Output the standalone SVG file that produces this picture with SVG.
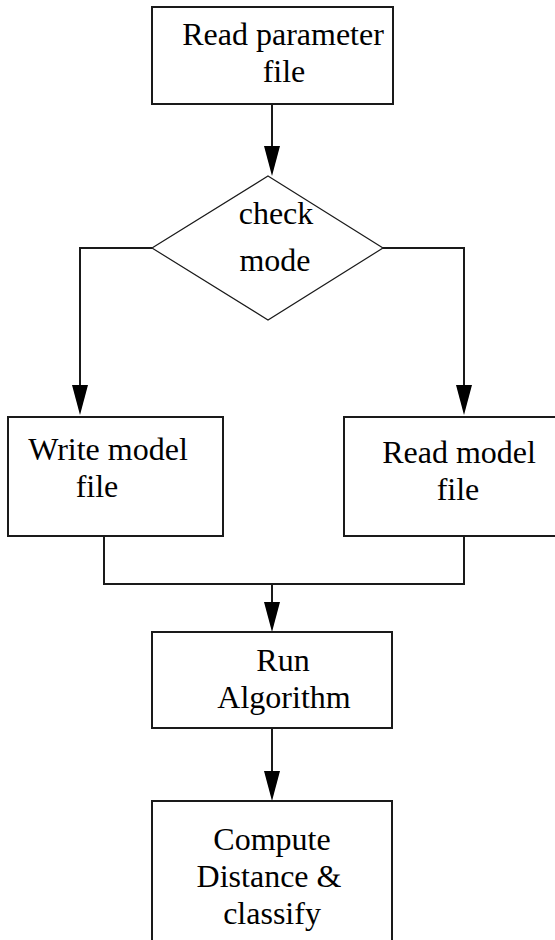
<svg xmlns="http://www.w3.org/2000/svg" width="555" height="940" viewBox="0 0 555 940">
  <style>
    .box { fill: #ffffff; stroke: #1a1a1a; stroke-width: 2; }
    .dia { fill: #ffffff; stroke: #1a1a1a; stroke-width: 1.2; }
    .conn { fill: none; stroke: #1a1a1a; stroke-width: 2; }
    .thin { fill: none; stroke: #1a1a1a; stroke-width: 1.2; }
    text { font-family: "Liberation Serif", "Times New Roman", serif; font-size: 32px; fill: #000000; text-anchor: middle; }
  </style>
  <defs>
    <marker id="arrow" markerUnits="userSpaceOnUse" markerWidth="30" markerHeight="16" viewBox="0 0 30 16" refX="26" refY="8" orient="auto">
      <path d="M0,0 L30,8 L0,16 Z" fill="#000000"/>
    </marker>
  </defs>
  <rect width="555" height="940" fill="#ffffff"/>

  <g id="connectors">
    <line class="conn" x1="272" y1="104" x2="272" y2="172" marker-end="url(#arrow)"/>
    <polyline class="conn" points="152,248 80,248 80,411" marker-end="url(#arrow)"/>
    <line class="thin" x1="368" y1="248" x2="383" y2="248"/>
    <polyline class="conn" points="383,248 464,248 464,411" marker-end="url(#arrow)"/>
    <polyline class="conn" points="104,536 104,584 464,584 464,536"/>
    <line class="conn" x1="272" y1="584" x2="272" y2="628" marker-end="url(#arrow)"/>
    <line class="conn" x1="272" y1="728" x2="272" y2="797" marker-end="url(#arrow)"/>
  </g>

  <g id="read-parameter">
    <rect class="box" x="152" y="7" width="241" height="97"/>
    <text x="283" y="45">Read parameter</text>
    <text x="284" y="82">file</text>
  </g>

  <g id="check-mode">
    <polygon class="dia" points="268,176 383,248 268,320 152,248"/>
    <text x="276" y="224">check</text>
    <text x="275" y="271">mode</text>
  </g>

  <g id="write-model">
    <rect class="box" x="8" y="417" width="215" height="119"/>
    <text x="108" y="460">Write model</text>
    <text x="97" y="497">file</text>
  </g>

  <g id="read-model">
    <rect class="box" x="344" y="417" width="240" height="119"/>
    <text x="459" y="463">Read model</text>
    <text x="458" y="500">file</text>
  </g>

  <g id="run-algorithm">
    <rect class="box" x="152" y="632" width="240" height="96"/>
    <text x="283" y="671">Run</text>
    <text x="284" y="708">Algorithm</text>
  </g>

  <g id="compute-distance">
    <rect class="box" x="152" y="801" width="240" height="160"/>
    <text x="272" y="850">Compute</text>
    <text x="269" y="887">Distance &amp;</text>
    <text x="272" y="924">classify</text>
  </g>
</svg>
